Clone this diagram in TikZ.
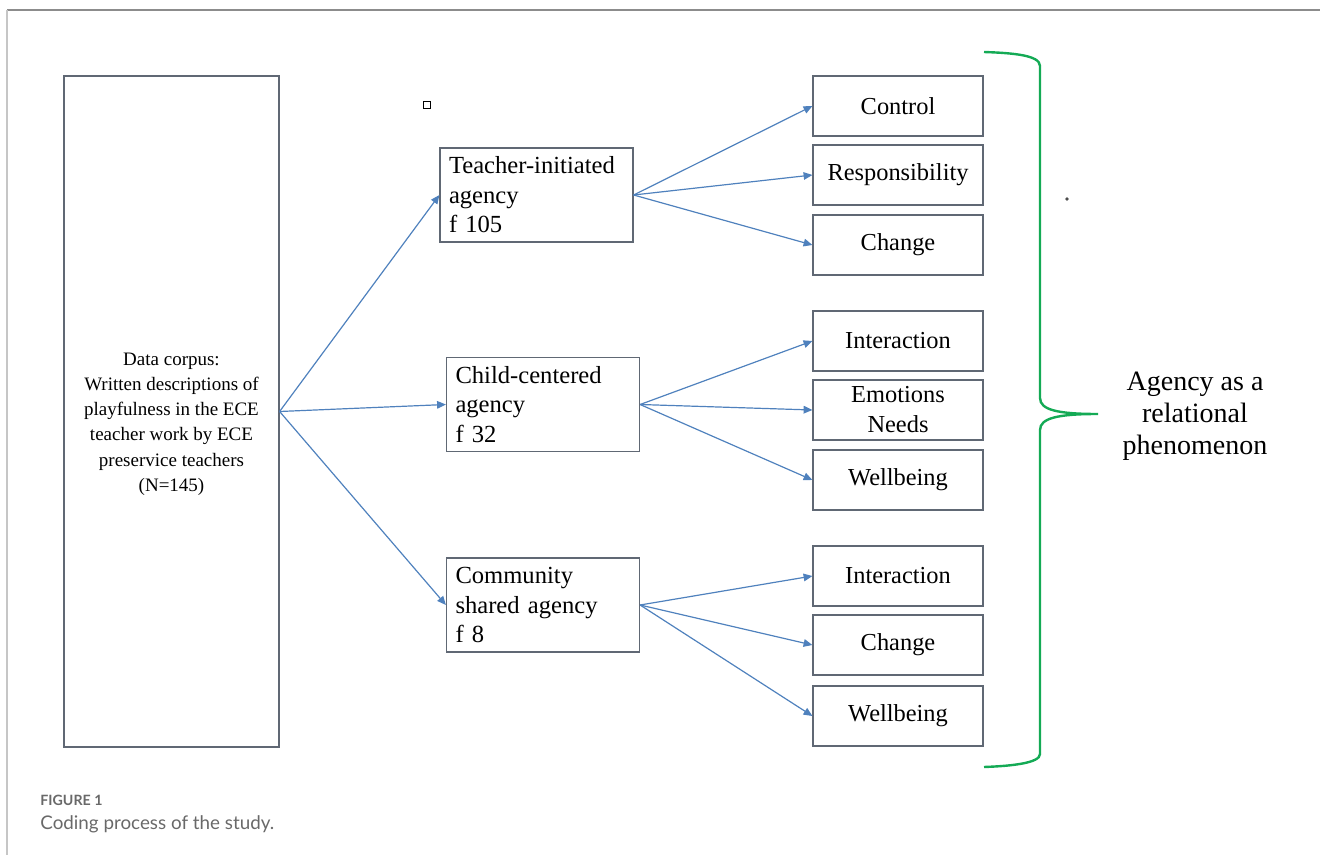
\documentclass[tikz,border=0pt]{standalone}
\usepackage{fontspec}
\setmainfont{Liberation Serif}
\newfontfamily\capfont{Lato}
\usetikzlibrary{arrows.meta}
\definecolor{arrowblue}{RGB}{79,129,189}
\definecolor{boxgray}{RGB}{96,104,116}
\definecolor{bracegreen}{RGB}{20,170,85}
\definecolor{framegray}{RGB}{140,140,140}
\definecolor{captiongray}{RGB}{105,105,105}

\begin{document}
\begin{tikzpicture}[x=0.5pt,y=-0.5pt,
    cnode/.style={draw=boxgray,line width=0.6pt,minimum width=107.5pt,minimum height=335.5pt,inner sep=0pt},
    anode/.style={draw=boxgray,line width=0.6pt,minimum height=47pt,text width=87.5pt,inner xsep=4.5pt,inner ysep=0pt,align=left,font=\fontsize{12.3}{14.75}\selectfont},
    knode/.style={draw=boxgray,line width=0.6pt,minimum width=85pt,minimum height=30pt,inner sep=0pt,align=center,font=\fontsize{12.2}{15}\selectfont},
    link/.style={draw=arrowblue,line width=0.6pt,-{Triangle[length=4.4pt,width=3.8pt]}}]
    \useasboundingbox (0,0) rectangle (1320,855);

    % frame of the figure
    \draw[framegray,line width=0.7pt] (7,10) -- (1320,10);
    \draw[gray!45,line width=1.1pt] (7,10) -- (7,855);

    \node[cnode] (corpus) at (171.5,411.5) {};
    \node[align=center,font=\fontsize{9.5}{12.6}\selectfont] (corpustxt) at (171.5,424) {Data corpus:\\Written descriptions of\\playfulness in the ECE\\teacher work by ECE\\preservice teachers\\(N=145)};
    \node[draw=black,line width=0.5pt,minimum size=3.4pt,inner sep=0pt] (mark) at (427,105) {};

    \node[anode] (teacher) at (536.5,195) {Teacher-initiated\\agency\\f 105};
    \node[anode] (child) at (543,404.5) {Child-centered\\agency\\f 32};
    \node[anode] (comm) at (543,605) {Community\\shared agency\\f 8};

    \node[knode] (t1) at (898,106) {Control};
    \node[knode] (t2) at (898,175) {Responsibility};
    \node[knode] (t3) at (898,245) {Change};
    \node[knode] (c1) at (898,341) {Interaction};
    \node[knode] (c2) at (898,410) {Emotions\\Needs};
    \node[knode] (c3) at (898,480) {Wellbeing};
    \node[knode] (s1) at (898,576) {Interaction};
    \node[knode] (s2) at (898,645) {Change};
    \node[knode] (s3) at (898,716) {Wellbeing};

    \draw[link] (corpus.east) -- (teacher.west);
    \draw[link] (corpus.east) -- (child.west);
    \draw[link] (corpus.east) -- (comm.west);

    \draw[link] (teacher.east) -- (t1.west);
    \draw[link] (teacher.east) -- (t2.west);
    \draw[link] (teacher.east) -- (t3.west);
    \draw[link] (child.east) -- (c1.west);
    \draw[link] (child.east) -- (c2.west);
    \draw[link] (child.east) -- (c3.west);
    \draw[link] (comm.east) -- (s1.west);
    \draw[link] (comm.east) -- (s2.west);
    \draw[link] (comm.east) -- (s3.west);

    % brace
    \draw[bracegreen,line width=1.2pt] (984,52) .. controls (1012,53) and (1040,55) .. (1040,66)
        -- (1040,398) .. controls (1040,410) and (1058,414) .. (1098,414)
        .. controls (1058,414) and (1040,418) .. (1040,430)
        -- (1040,754) .. controls (1040,763) and (1012,766) .. (984,767);
    \fill[black!70] (1067,199) circle (0.9pt);
    \node[align=center,font=\fontsize{14}{16}\selectfont] (agency) at (1195,416) {Agency as a\\relational\\phenomenon};

    % caption
    \node[anchor=west,inner sep=0pt,text=captiongray,font=\capfont\bfseries\fontsize{7.1}{9}\selectfont] (fig) at (40,800) {FIGURE 1};
    \node[anchor=west,inner sep=0pt,text=captiongray,font=\capfont\fontsize{9.4}{11}\selectfont] (cap) at (40,824) {Coding process of the study.};
\end{tikzpicture}
\end{document}
